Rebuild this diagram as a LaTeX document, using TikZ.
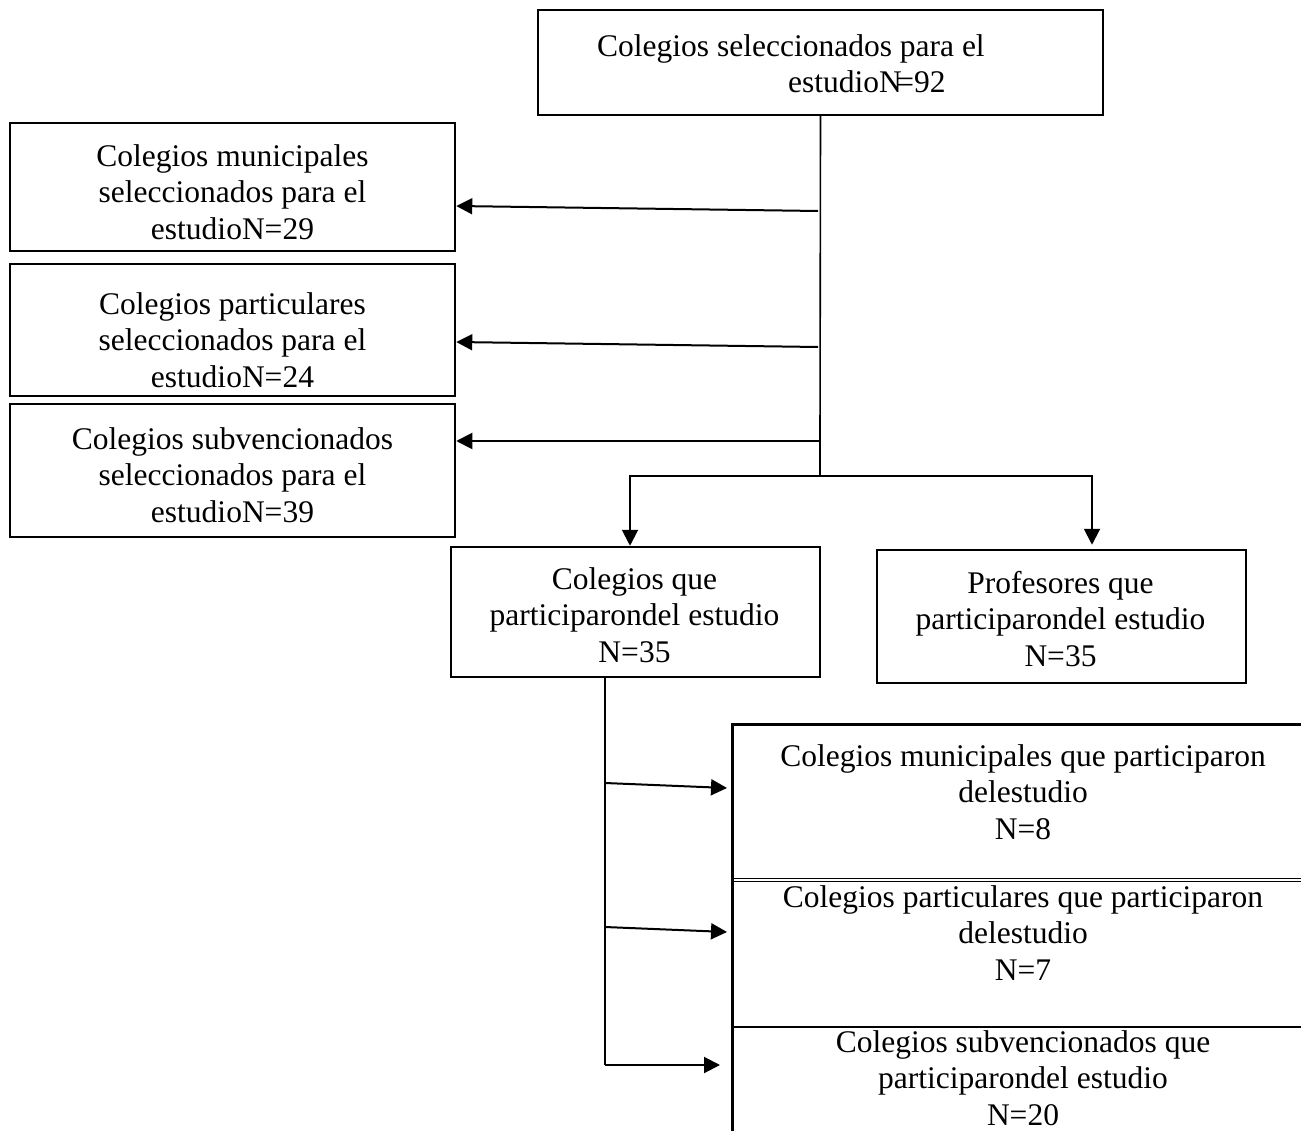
\documentclass[tikz,border=0pt]{standalone}
\usepackage{fontspec}
\setmainfont{Liberation Serif}
\usetikzlibrary{arrows.meta}
\begin{document}
\begin{tikzpicture}[x=1pt,y=-1pt,
  box/.style={draw, line width=2.5pt, rectangle, inner sep=0pt},
  rbox/.style={draw, line width=1.2pt, rectangle, inner sep=0pt, minimum width=580pt},
  txt/.style={align=center, inner sep=0pt, font=\fontsize{31.5}{36.5}\selectfont},
  conn/.style={line width=2pt},
  thinconn/.style={line width=1.6pt},
  arr/.style={line width=2pt, -{Triangle[length=16pt,width=16pt]}},
  ]
\useasboundingbox (0,0) rectangle (1301,1131);
\fill[white] (0,0) rectangle (1301,1131);

% boxes
\node[box, minimum width=565pt, minimum height=105pt] (top) at (820.5,62.5) {};
\node[box, minimum width=445pt, minimum height=128pt] (m1) at (232.5,187) {};
\node[box, minimum width=445pt, minimum height=132pt] (m2) at (232.5,330) {};
\node[box, minimum width=445pt, minimum height=133pt] (m3) at (232.5,470.5) {};
\node[box, minimum width=369pt, minimum height=130pt] (cp) at (635.5,612) {};
\node[box, minimum width=369pt, minimum height=133pt] (pp) at (1061.5,616.5) {};
\node[rbox, minimum height=153.5pt] (r1) at (1023,801.75) {};
\node[rbox, minimum height=145.5pt] (r2) at (1023,954.25) {};
\node[rbox, minimum height=123pt] (r3) at (1023,1088.5) {};
\draw[line width=2.5pt] (r1.north east) -- (r1.north west) -- (r3.south west);

% texts
\node[txt, anchor=west, align=left] (ttop) at (597,63.5) {Colegios seleccionados para el\\\hspace*{191pt}estudioN\kern-.18em=92};
\node[txt] (tm1) at (232.5,192) {Colegios municipales\\seleccionados para el\\estudioN=29};
\node[txt] (tm2) at (232.5,340) {Colegios particulares\\seleccionados para el\\estudioN=24};
\node[txt] (tm3) at (232.5,475) {Colegios subvencionados\\seleccionados para el\\estudioN=39};
\node[txt] (tcp) at (634.5,615) {Colegios que\\participarondel estudio\\N=35};
\node[txt] (tpp) at (1060.5,619) {Profesores que\\participarondel estudio\\N=35};
\node[txt] (tr1) at (1023,792) {Colegios municipales que participaron\\delestudio\\N=8};
\node[txt] (tr2) at (1023,933) {Colegios particulares que participaron\\delestudio\\N=7};
\node[txt] (tr3) at (1023,1078) {Colegios subvencionados que\\participarondel estudio\\N=20};

% connector points
\coordinate (j1) at (818,211);
\coordinate (j2) at (818,347);
\coordinate (j3) at (820,441);
\coordinate (split) at (820,476);
\coordinate (sl) at (630,476);
\coordinate (sr) at (1092,476);
\coordinate (b0) at (605,676);
\coordinate (k1) at (605,783);
\coordinate (k2) at (605,927);
\coordinate (bb) at (605,1065);
\coordinate (q1) at (727,788);
\coordinate (q2) at (727,932);
\coordinate (q3) at (720,1065);

% connectors
\draw[thinconn] (top.south) -- (j3);
\draw[thinconn] (j3) -- (split);
\draw[arr] (j1) -- (m1.east |- 0,206);
\draw[arr] (j2) -- (m2.east |- 0,342);
\draw[arr] (j3) -- (m3.east |- j3);
\draw[arr] (split) -| (cp.north -| sl);
\draw[arr] (split) -| (sr) -- ([yshift=4pt]pp.north -| sr);
\draw[conn] (cp.south -| b0) -- (bb);
\draw[arr] (k1) -- (q1);
\draw[arr] (k2) -- (q2);
\draw[arr] (bb) -- (q3);
\end{tikzpicture}
\end{document}
